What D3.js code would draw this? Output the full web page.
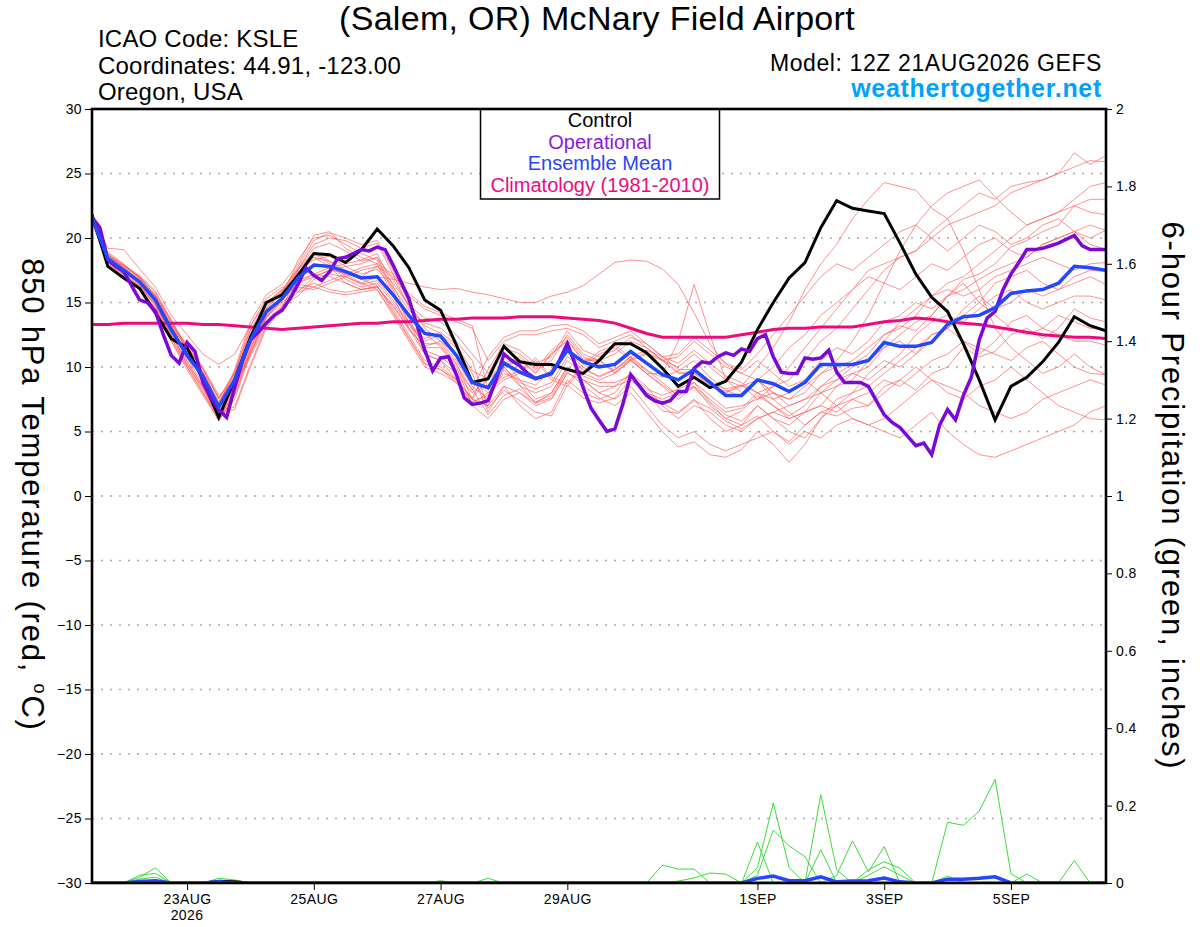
<!DOCTYPE html>
<html>
<head>
<meta charset="utf-8">
<script src="https://cdn.jsdelivr.net/npm/d3@7"></script>
<style>
body { margin: 0; background: #fff; }
svg text { font-family: "Liberation Sans", Arial, Helvetica, sans-serif; }
</style>
</head>
<body>
<script>
// GEFS 850 hPa temperature plume, 6-hourly from 12Z 21AUG2026 (65 steps)
var controlT = [21.8,17.8,16.9,16.1,14.2,12.2,11.5,9.0,6.1,9.0,12.3,15.0,15.6,17.1,18.8,18.7,18.1,19.1,20.7,19.4,17.7,15.2,14.4,11.7,8.8,
    9.1,11.6,10.4,10.2,10.2,9.8,9.5,10.5,11.8,11.8,11.1,9.9,8.5,9.2,8.4,8.9,10.4,12.9,15.0,16.9,18.1,20.8,22.9,
    22.3,22.1,21.9,19.6,17.2,15.4,14.3,11.8,9.0,5.9,8.5,9.2,10.4,11.9,13.9,13.2,12.8];

var meanT = [21.6,18.4,17.5,16.6,15.2,12.9,10.9,9.3,6.9,9.0,12.1,14.3,15.3,16.9,17.9,17.8,17.4,16.9,17.0,15.6,14.0,12.6,12.4,10.9,8.8,
    8.4,10.3,9.6,9.1,9.5,11.3,10.4,10.0,10.2,11.2,10.3,9.4,9.0,9.8,8.8,7.8,7.8,
    9.0,8.7,8.1,8.8,10.2,10.2,10.2,10.5,11.9,11.6,11.6,11.9,13.3,13.9,14.0,14.6,15.7,15.9,16.0,16.5,17.8,17.7,17.5];

var climT = [13.3,13.3,13.4,13.4,13.4,13.4,13.4,13.3,13.3,13.2,13.1,13.0,12.9,13.0,13.1,13.2,13.3,13.4,13.4,13.5,13.5,13.6,13.7,13.7,13.8,
    13.8,13.8,13.9,13.9,13.9,13.8,13.7,13.6,13.4,13.0,12.6,12.3,12.3,12.3,12.3,12.3,12.5,12.7,12.9,13.0,13.0,13.1,13.1,
    13.1,13.3,13.5,13.6,13.8,13.7,13.5,13.4,13.3,13.1,12.9,12.7,12.5,12.4,12.3,12.3,12.2];

// operational run is 3-hourly (129 steps)
var operT = [21.6,20.8,18.3,17.8,17.4,16.3,15.2,15.0,14.3,12.5,
    10.9,10.3,11.9,11.2,8.8,7.6,6.7,6.1,8.4,10.5,
    12.1,12.7,13.4,14.0,14.4,15.3,16.4,17.7,17.1,16.7,
    17.4,18.4,18.5,18.8,19.1,19.0,19.3,19.1,17.9,16.6,
    15.3,13.3,11.3,9.7,10.7,10.8,9.4,7.6,7.1,7.2,
    7.4,9.0,11.0,10.5,10.1,9.5,9.1,9.3,9.5,10.5,
    11.8,10.2,8.4,6.8,5.9,5.0,5.2,7.1,9.4,8.6,
    7.8,7.4,7.2,7.4,8.1,8.1,9.9,10.4,10.3,10.8,
    11.1,10.9,11.4,11.2,12.2,12.5,10.8,9.6,9.5,9.5,
    10.7,10.6,10.7,11.3,9.6,8.8,8.8,8.8,8.5,7.4,
    6.3,5.7,5.3,4.6,3.9,4.1,3.2,5.5,6.7,5.9,
    7.8,9.2,12.1,13.8,14.3,16.0,17.2,18.1,19.1,19.1,
    19.2,19.4,19.6,19.9,20.2,19.4,19.1,19.1,19.1];

var membersT = [
    [21.8,18.8,17.9,16.9,15.6,13.2,11.0,9.0,6.4,8.8,12.0,14.6,15.8, 17.6,19.2,19.6,19.0,18.2,18.5,16.8,14.8,13.2,12.6,11.0,9.0, 8.0,9.5,9.0,8.6,9.8,11.2,10.0,9.2,9.8,10.6,9.5,8.6,7.8,8.4,7.2,6.0,6.6, 7.8,7.0,6.2,7.0,8.5,9.5,10.2,11.0,12.5,13.2,12.8,14.0,15.5,16.8,17.2,18.0,19.3,19.8,20.5,21.0,22.5,22.0,21.8],
    [21.5,18.0,17.2,16.2,14.8,12.6,10.2,8.4,6.0,8.2,11.5,14.0,15.2, 16.5,17.2,17.0,16.5,16.0,16.2,14.8,13.0,11.0,10.5,9.0,7.5, 7.0,8.5,8.0,7.2,8.0,10.0,9.0,8.0,8.5,9.5,8.0,7.2,6.5,7.5,6.0,5.0,5.5, 6.2,5.0,4.2,5.5,6.5,6.2,6.8,7.0,8.5,9.0,8.2,9.5,10.0,11.5,10.8,11.2,12.5,13.0,12.2,13.0,14.5,13.8,13.5],
    [21.9,18.6,17.8,17.0,15.5,13.0,11.2,9.6,7.2,9.4,12.5,14.8,15.6, 17.0,18.0,17.6,17.2,16.5,17.0,16.8,16.5,16.2,16.0,16.1,15.8, 15.6,15.3,15.0,15.0,15.5,15.8,16.3,17.2,18.1,18.3,18.2,17.6,16.4,14.2,11.8,10.2,9.5, 9.0,8.0,7.0,7.5,8.5,9.0,10.0,10.5,11.5,12.5,13.5,14.0,15.5,16.0,16.8,17.5,18.0,18.5,19.5,20.0,20.5,21.0,20.6],
    [21.7,18.2,17.3,16.4,15.0,12.5,10.5,8.5,6.2,8.5,11.8,14.2,15.5, 17.2,18.5,18.2,17.5,17.0,17.8,16.5,14.8,13.8,13.5,12.5,11.0, 9.5,11.5,11.0,10.0,10.5,12.5,11.0,10.5,11.0,12.0,11.5,10.5,10.0,11.0,10.0,9.0,8.5, 10.0,11.5,13.5,16.0,18.0,19.5,21.5,23.0,24.3,24.0,23.7,22.3,21.5,19.0,16.0,13.0,11.5,10.5,9.5,10.0,11.0,10.0,9.4],
    [21.4,18.6,17.8,17.0,15.8,13.5,11.5,9.8,7.5,9.5,12.8,14.8,15.9, 17.8,19.8,20.4,20.0,19.5,19.8,17.5,15.0,13.0,12.0,10.5,8.5, 7.5,9.8,8.5,8.0,8.5,10.5,9.5,9.0,9.5,10.5,9.5,8.5,7.5,8.5,7.5,6.5,6.8, 8.0,8.5,9.0,10.5,12.0,13.0,14.5,16.0,17.5,18.5,19.0,20.5,21.5,22.5,23.5,23.0,24.0,24.3,24.5,25.0,26.6,25.7,26.4],
    [21.5,17.8,16.9,16.0,14.5,12.0,9.8,7.8,5.9,7.5,11.0,13.8,15.0, 16.0,16.5,16.0,15.8,16.0,16.3,14.5,12.5,10.5,10.0,9.0,7.5, 7.0,10.5,9.0,7.5,8.0,10.0,9.0,8.0,7.5,8.5,7.0,5.5,4.5,5.0,4.0,3.5,4.0, 4.5,5.0,4.0,5.0,4.5,5.5,6.0,5.5,5.0,4.5,5.5,6.5,5.0,4.0,3.2,3.0,3.5,4.0,4.5,5.0,5.5,6.5,7.0],
    [21.8,19.2,19.1,17.6,16.2,14.0,12.5,11.0,10.2,11.0,13.2,15.0,16.0, 16.5,17.0,17.5,17.8,18.0,18.5,16.0,13.5,11.0,10.5,9.5,8.0, 9.0,10.0,10.5,9.5,11.0,12.0,10.5,10.5,9.5,10.5,11.0,10.5,9.5,9.5,8.5,8.0,8.5, 9.0,8.0,7.5,8.5,9.5,10.5,12.0,14.0,16.5,19.0,21.0,22.5,23.5,24.0,24.5,23.2,22.0,21.0,21.5,22.0,23.0,24.0,24.3],
    [21.6,18.5,17.6,16.8,15.3,13.0,11.0,9.2,6.5,6.7,10.0,13.0,14.5, 17.5,18.8,18.0,16.8,16.2,16.5,15.0,13.2,12.0,12.5,11.5,9.5, 6.5,8.5,7.0,6.0,6.5,9.0,8.0,7.5,8.0,9.5,8.5,7.0,6.0,7.0,6.5,5.5,5.0, 6.0,6.5,7.0,7.5,8.0,9.0,9.5,10.0,11.5,12.0,11.0,12.0,13.0,14.5,15.5,14.5,15.0,16.0,15.5,16.0,17.0,17.5,17.4],
    [21.9,18.9,18.0,16.9,15.6,13.4,11.4,9.5,7.0,9.8,13.5,15.6,16.4, 18.0,20.2,20.5,19.2,18.5,18.0,15.5,13.0,11.5,11.5,10.0,7.0, 6.0,7.5,8.0,7.0,7.5,9.5,9.0,8.5,8.5,9.0,8.0,7.5,8.0,8.5,7.0,6.0,5.5, 7.0,6.0,5.5,6.5,7.0,6.5,7.5,8.0,9.0,8.5,9.5,10.5,11.0,12.0,11.5,11.0,10.5,11.5,12.0,11.0,10.0,9.5,9.4],
    [21.3,18.1,17.0,16.2,14.8,12.2,10.2,8.2,6.0,8.0,11.4,14.0,15.4, 16.2,16.0,16.5,17.0,17.5,17.8,17.0,15.5,14.5,14.0,13.5,13.0, 10.5,12.0,12.5,12.5,12.8,13.0,12.5,11.5,12.0,12.5,11.5,10.5,10.8,12.0,11.0,10.0,9.5, 10.5,9.5,8.5,9.0,10.5,11.5,11.0,12.0,13.5,14.0,15.0,14.5,15.5,16.5,15.0,14.0,13.0,12.5,13.0,14.0,13.5,13.0,12.9],
    [21.7,18.4,17.4,16.5,15.2,13.2,11.8,10.0,7.8,8.8,11.0,13.5,14.8, 15.5,16.8,17.2,17.0,16.5,16.0,14.0,12.0,10.0,9.5,8.8,7.2, 8.0,9.0,9.5,10.5,9.0,8.5,10.0,11.0,11.5,10.5,9.5,9.5,12.0,16.4,12.5,9.0,8.0, 9.0,10.0,11.5,12.5,14.0,15.0,16.0,17.0,16.5,16.0,17.0,18.0,17.5,18.5,19.5,20.0,19.0,18.5,19.5,20.0,20.5,19.5,19.1],
    [21.3,18.7,17.7,16.7,15.5,13.7,11.2,9.6,7.3,9.2,12.4,14.5,15.7, 17.4,18.3,18.6,17.8,17.2,17.6,16.2,14.4,13.4,13.0,12.0,10.5, 6.8,8.2,7.4,6.5,6.2,8.6,7.6,7.2,7.6,9.0,8.0,6.6,6.4,7.4,6.8,5.8,5.2, 6.0,6.5,6.0,6.5,8.0,8.5,9.5,9.0,10.0,11.0,12.5,13.5,14.0,13.5,14.5,15.5,16.0,15.0,14.5,15.0,15.5,15.5,15.2],
    [21.6,18.3,17.1,16.3,14.9,12.7,10.7,8.7,6.3,8.6,12.0,14.4,15.3, 18.3,20.0,20.2,19.5,18.8,18.3,15.8,13.4,11.8,11.8,10.3,7.5, 9.2,10.3,10.8,9.8,11.3,12.3,10.8,10.2,9.8,10.8,11.3,10.8,9.8,9.8,8.8,8.3,8.6, 8.0,7.0,6.0,6.5,7.0,8.5,9.0,10.5,12.0,13.5,14.5,15.5,16.5,17.0,18.0,19.0,20.0,21.0,21.5,22.0,22.5,23.0,23.0],
    [21.4,17.9,17.0,16.1,14.6,12.3,10.0,8.0,6.1,7.8,11.2,13.9,15.1, 17.3,18.5,17.8,16.5,16.0,16.2,14.7,12.9,11.6,12.0,11.0,9.0, 7.3,10.0,8.6,7.2,7.6,9.6,8.6,7.6,7.0,8.0,6.5,5.0,3.8,4.2,3.2,3.0,3.6, 5.0,4.0,2.6,4.0,6.0,7.0,7.5,7.0,8.0,9.0,10.0,9.0,8.0,7.5,8.5,9.0,10.0,9.0,8.0,7.0,6.5,6.0,5.9],
    [21.9,18.7,17.9,17.0,15.4,13.3,11.3,9.4,7.2,9.6,13.2,15.3,16.2, 15.8,17.0,17.5,17.3,16.8,16.3,14.3,12.3,10.3,9.8,9.0,7.6, 9.8,11.8,11.3,10.3,10.8,12.8,11.3,10.8,11.3,12.3,11.8,10.8,10.3,11.3,10.3,9.3,8.8, 8.0,7.5,8.0,9.0,8.0,7.0,8.0,9.5,10.5,10.0,11.0,12.5,13.0,12.0,11.0,12.0,13.5,14.0,13.0,12.5,12.0,12.0,11.7],
    [21.2,17.9,16.8,16.0,14.6,12.0,10.0,8.0,5.8,7.8,11.2,13.8,15.2, 17.6,19.5,20.0,19.8,19.2,19.6,17.2,14.6,12.6,11.6,10.2,8.2, 10.8,12.3,12.8,12.8,13.2,13.3,12.8,11.8,12.3,12.8,11.8,10.8,11.0,12.3,11.3,10.3,9.8, 11.0,12.5,14.0,15.5,17.0,18.0,17.5,18.5,19.5,20.5,21.0,20.0,19.0,20.0,21.0,20.5,19.5,20.0,21.0,21.5,20.5,20.0,20.6],
    [21.8,18.5,17.5,16.6,15.3,13.1,11.6,9.8,7.6,8.6,10.8,13.3,14.6, 15.8,16.2,15.8,15.6,15.8,16.0,14.2,12.2,10.2,9.8,8.8,7.3, 7.8,10.0,8.8,8.3,8.8,10.8,9.8,9.3,9.8,10.8,9.8,8.8,7.8,8.8,7.8,6.8,7.0, 7.5,8.0,7.5,8.0,9.5,10.0,10.5,11.5,12.5,13.0,14.0,15.5,16.0,15.5,16.0,17.0,17.5,18.0,18.5,18.0,17.5,18.0,18.1],
    [21.5,18.6,17.7,16.9,15.4,13.1,11.1,9.3,6.6,6.9,10.2,13.2,14.7, 16.7,17.2,17.7,18.0,18.3,18.8,16.3,13.8,11.3,10.8,9.8,8.3, 6.3,7.8,8.3,7.3,7.8,9.8,9.3,8.8,8.8,9.3,8.3,7.8,8.3,8.8,7.3,6.3,5.8, 7.0,6.0,5.0,4.5,6.0,7.5,8.0,8.5,9.5,10.5,11.5,12.5,13.0,14.0,15.0,16.5,17.0,17.5,16.5,16.0,16.5,17.0,16.4],
    [21.6,18.1,17.2,16.3,14.9,12.4,10.4,8.4,6.1,8.4,11.7,14.1,15.4, 16.4,16.2,16.7,17.2,17.7,18.0,17.2,15.7,14.7,14.2,13.7,13.2, 8.2,9.2,9.7,10.7,9.2,8.7,10.2,11.2,11.7,10.7,9.7,9.2,9.7,10.5,9.2,8.2,7.7, 9.0,7.5,6.5,5.5,6.5,7.0,6.0,5.5,6.0,7.0,8.0,9.0,8.5,8.0,7.0,6.5,6.0,6.5,7.5,8.0,8.5,9.0,8.6],
    [21.5,18.7,17.9,17.1,15.9,13.6,11.6,9.9,7.6,9.6,12.9,14.9,16.0, 17.6,18.9,18.2,17.0,16.4,16.7,15.2,13.4,12.2,12.7,11.7,9.7, 9.1,10.1,10.6,9.6,11.1,12.1,10.6,10.6,9.6,10.6,11.1,10.6,9.6,9.6,8.6,8.1,8.6, 7.5,8.5,10.0,11.5,13.0,14.5,16.0,17.5,18.0,18.5,19.0,20.0,21.0,21.5,22.0,22.5,23.5,24.0,24.5,25.0,25.5,26.0,25.9]
];

// 6-hour precipitation (inches), only the non-zero steps: [step, value]
var precipMembers = [
    [[3,0.015],[4,0.039],[54,0.157],[55,0.149],[56,0.186],[57,0.268],[58,0.024]],
    [[3,0.02],[4,0.025]],
    [[3,0.01],[4,0.015]],
    [[8,0.012],[9,0.008]],
    [[25,0.012]],
    [[22,0.006]],
    [[36,0.046],[37,0.036],[38,0.036]],
    [[37,0.005],[38,0.013],[39,0.026],[40,0.023]],
    [[42,0.106]],
    [[42,0.04],[43,0.207],[44,0.04]],
    [[42,0.02],[43,0.137],[44,0.096],[45,0.068]],
    [[46,0.228],[47,0.034]],
    [[46,0.086]],
    [[47,0.02],[48,0.109],[49,0.029],[50,0.094]],
    [[49,0.034],[50,0.055],[51,0.038]],
    [[49,0.02],[50,0.042],[51,0.02]],
    [[59,0.023]],
    [[62,0.058]],
    [[54,0.018]],
    []
];
var precipMean = [[3,0.004],[4,0.006],[8,0.003],[42,0.012],[43,0.018],[44,0.006],[45,0.006],[46,0.016],[47,0.003],
    [48,0.005],[49,0.006],[50,0.013],[51,0.003],[54,0.01],[55,0.01],[56,0.012],[57,0.016]];
var precipControl = [[8,0.005],[9,0.004]];

var tempTicks = [-30,-25,-20,-15,-10,-5,0,5,10,15,20,25,30];
var precipTicks = [0,0.2,0.4,0.6,0.8,1,1.2,1.4,1.6,1.8,2];
var precipTickLabels = ["0","0.2","0.4","0.6","0.8","1","1.2","1.4","1.6","1.8","2"];
var dateTicks = ["2026-08-23","2026-08-25","2026-08-27","2026-08-29","2026-09-01","2026-09-03","2026-09-05"];
var dateLabels = ["23AUG","25AUG","27AUG","29AUG","1SEP","3SEP","5SEP"];

var width = 1200;
var height = 927;
var plot = {left: 92, right: 1106, top: 109, bottom: 883};

var hour = 3600000;
var start = Date.UTC(2026, 7, 21, 12);
var steps6 = d3.range(controlT.length).map(function(i){ return new Date(start + i*6*hour); });
var steps3 = d3.range(operT.length).map(function(i){ return new Date(start + i*3*hour); });

var x = d3.scaleUtc().domain([new Date(start), new Date(start + 384*hour)]).range([plot.left, plot.right]);
var yT = d3.scaleLinear().domain([-30, 30]).range([plot.bottom, plot.top]);
var yP = d3.scaleLinear().domain([0, 2]).range([plot.bottom, plot.top]);

var svg = d3.select("body").append("svg")
    .attr("width", width)
    .attr("height", height);

svg.append("defs").append("clipPath").attr("id", "plotclip")
    .append("rect")
    .attr("x", plot.left).attr("y", plot.top)
    .attr("width", plot.right - plot.left).attr("height", plot.bottom - plot.top);

function expand(sparse){
    var full = steps6.map(function(){ return 0; });
    sparse.forEach(function(p){ full[p[0]] = p[1]; });
    return full;
}

function lineT(times){
    return d3.line().x(function(d, i){ return x(times[i]); }).y(function(d){ return yT(d); });
}
var lineP = d3.line().x(function(d, i){ return x(steps6[i]); }).y(function(d){ return yP(d); });

//dotted grid at temperature ticks
svg.append("g").selectAll("line")
    .data(tempTicks.slice(1, -1))
    .enter().append("line")
    .attr("x1", plot.left).attr("x2", plot.right)
    .attr("y1", function(d){ return yT(d); })
    .attr("y2", function(d){ return yT(d); })
    .attr("stroke", "#aaaaaa")
    .attr("stroke-width", 1.6)
    .attr("stroke-dasharray", "2,7");

var lines = svg.append("g").attr("clip-path", "url(#plotclip)");

lines.selectAll(".member")
    .data(membersT)
    .enter().append("path")
    .attr("class", "member")
    .attr("d", lineT(steps6))
    .attr("fill", "none")
    .attr("stroke", "#ff5a5a")
    .attr("stroke-opacity", 0.8)
    .attr("stroke-width", 0.85);

lines.selectAll(".pmember")
    .data(precipMembers.map(expand))
    .enter().append("path")
    .attr("class", "pmember")
    .attr("d", lineP)
    .attr("fill", "none")
    .attr("stroke", "#3cdc3c")
    .attr("stroke-width", 1);

lines.append("path").datum(climT)
    .attr("d", lineT(steps6))
    .attr("fill", "none").attr("stroke", "#ee0a7d").attr("stroke-width", 3);

lines.append("path").datum(controlT)
    .attr("d", lineT(steps6))
    .attr("fill", "none").attr("stroke", "#000").attr("stroke-width", 3);

lines.append("path").datum(operT)
    .attr("d", lineT(steps3))
    .attr("fill", "none").attr("stroke", "#7a08d8").attr("stroke-width", 3.5);

lines.append("path").datum(meanT)
    .attr("d", lineT(steps6))
    .attr("fill", "none").attr("stroke", "#2148ff").attr("stroke-width", 3.5);

lines.append("path").datum(expand(precipControl))
    .attr("d", lineP)
    .attr("fill", "none").attr("stroke", "#000").attr("stroke-width", 2.5);

lines.append("path").datum(expand(precipMean))
    .attr("d", lineP)
    .attr("fill", "none").attr("stroke", "#2148ff").attr("stroke-width", 3.5);

//legend box
var legend = svg.append("g");
legend.append("rect")
    .attr("x", 480.5).attr("y", plot.top)
    .attr("width", 239).attr("height", 90)
    .attr("fill", "#fff").attr("stroke", "#000").attr("stroke-width", 1.5);
var legendItems = [["Control", "#000"], ["Operational", "#8a1ae0"], ["Ensemble Mean", "#2b44f5"], ["Climatology (1981-2010)", "#ee0a7d"]];
legend.selectAll("text")
    .data(legendItems)
    .enter().append("text")
    .attr("x", 600)
    .attr("y", function(d, i){ return 127 + i*21.5; })
    .attr("text-anchor", "middle")
    .attr("font-size", "20px")
    .attr("fill", function(d){ return d[1]; })
    .text(function(d){ return d[0]; });

//frame
svg.append("rect")
    .attr("x", plot.left).attr("y", plot.top)
    .attr("width", plot.right - plot.left).attr("height", plot.bottom - plot.top)
    .attr("fill", "none").attr("stroke", "#000").attr("stroke-width", 2.6);

//axes
var leftAxis = d3.axisLeft(yT).tickValues(tempTicks).tickSize(7).tickPadding(3);
var rightAxis = d3.axisRight(yP).tickValues(precipTicks).tickSize(6).tickPadding(4)
    .tickFormat(function(d, i){ return precipTickLabels[i]; });
var bottomAxis = d3.axisBottom(x)
    .tickValues(dateTicks.map(function(d){ return new Date(d + "T00:00:00Z"); }))
    .tickSize(7).tickPadding(4)
    .tickFormat(function(d, i){ return dateLabels[i]; });

function styleAxis(g){
    g.select(".domain").remove();
    g.selectAll("text").attr("font-size", "14px").attr("fill", "#000")
        .style("font-family", "'Liberation Sans', Arial, sans-serif")
        .style("letter-spacing", "0.4px");
    g.selectAll("line").attr("stroke", "#000");
}

svg.append("g").attr("transform", "translate(" + plot.left + ",0)").call(leftAxis).call(styleAxis);
svg.append("g").attr("transform", "translate(" + plot.right + ",0)").call(rightAxis).call(styleAxis);
svg.append("g").attr("transform", "translate(0," + plot.bottom + ")").call(bottomAxis).call(styleAxis);

svg.append("text")
    .attr("x", x(new Date("2026-08-23T00:00:00Z"))).attr("y", 920)
    .attr("text-anchor", "middle").attr("font-size", "14px")
    .style("letter-spacing", "0.4px")
    .text("2026");

//titles
svg.append("text")
    .attr("x", 597).attr("y", 30)
    .attr("text-anchor", "middle").attr("font-size", "34px")
    .style("letter-spacing", "0.3px")
    .text("(Salem, OR) McNary Field Airport");

var info = ["ICAO Code: KSLE", "Coordinates: 44.91, -123.00", "Oregon, USA"];
svg.append("g").selectAll("text")
    .data(info)
    .enter().append("text")
    .attr("x", 98)
    .attr("y", function(d, i){ return 47 + i*26.5; })
    .attr("font-size", "24px")
    .style("letter-spacing", "0.2px")
    .text(function(d){ return d; });

svg.append("text")
    .attr("x", 1102).attr("y", 71)
    .attr("text-anchor", "end").attr("font-size", "23px")
    .style("letter-spacing", "0.6px")
    .text("Model: 12Z 21AUG2026 GEFS");

svg.append("text")
    .attr("x", 1102).attr("y", 97)
    .attr("text-anchor", "end").attr("font-size", "25px")
    .style("letter-spacing", "0.7px")
    .attr("font-weight", "bold").attr("fill", "#00a2ff")
    .text("weathertogether.net");

var leftTitle = svg.append("text")
    .attr("transform", "translate(22,495) rotate(90)")
    .attr("text-anchor", "middle").attr("font-size", "31px")
    .style("letter-spacing", "1.8px");
leftTitle.append("tspan").text("850 hPa Temperature (red, ");
leftTitle.append("tspan").attr("font-size", "18px").attr("dy", -12).text("o");
leftTitle.append("tspan").attr("dy", 12).text("C)");

svg.append("text")
    .attr("transform", "translate(1162,496) rotate(90)")
    .attr("text-anchor", "middle").attr("font-size", "31px")
    .style("letter-spacing", "1.8px")
    .text("6-hour Precipitation (green, inches)");
</script>
</body>
</html>
